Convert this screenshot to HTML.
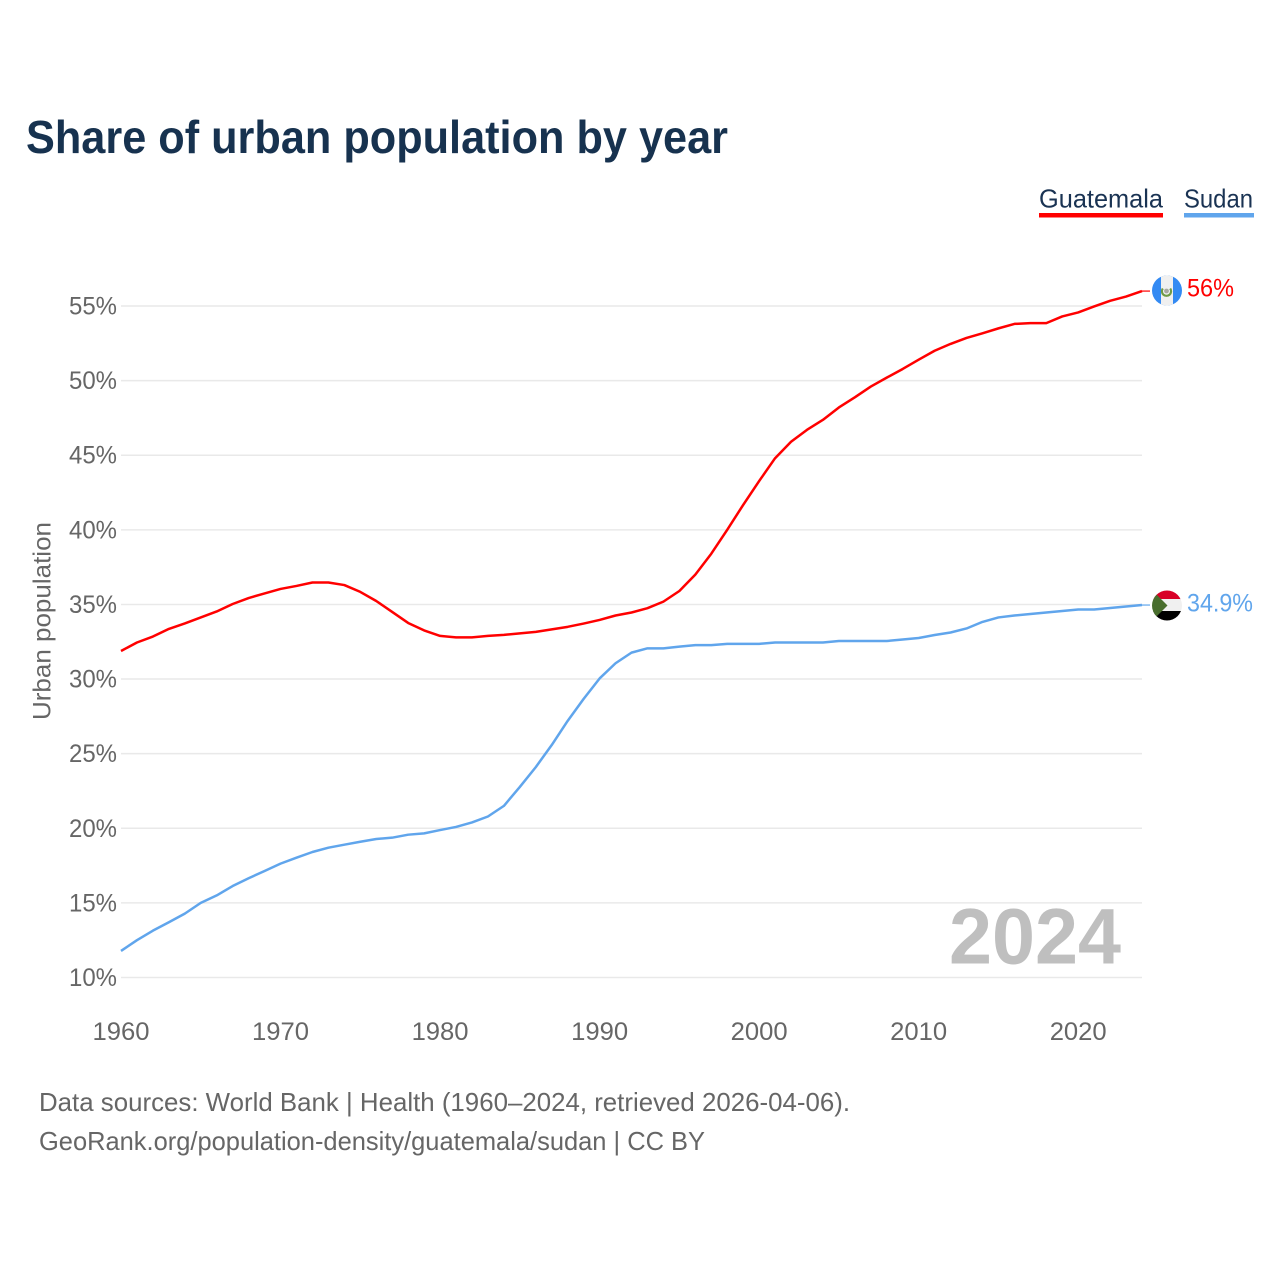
<!DOCTYPE html>
<html>
<head>
<meta charset="utf-8">
<title>Share of urban population by year</title>
<style>
html,body{margin:0;padding:0;background:#fff;}
svg{display:block;font-family:"Liberation Sans",sans-serif;}
</style>
</head>
<body>
<svg id="chart" xmlns="http://www.w3.org/2000/svg" width="1280" height="1280" viewBox="0 0 1280 1280">
  <rect x="0" y="0" width="1280" height="1280" fill="#ffffff"/>
  <text x="26" y="153" font-size="46" font-weight="700" fill="#17324f" textLength="702" lengthAdjust="spacingAndGlyphs">Share of urban population by year</text>

  <g>
    <text x="1039" y="207.500" font-size="26" fill="#1a3353" textLength="124" lengthAdjust="spacingAndGlyphs">Guatemala</text>
    <rect x="1039" y="213" width="124" height="4.5" fill="#ff0000"/>
  </g>
  <g>
    <text x="1184" y="207.500" font-size="26" fill="#1a3353" textLength="69" lengthAdjust="spacingAndGlyphs">Sudan</text>
    <rect x="1184" y="213" width="70" height="4.5" fill="#60a5ec"/>
  </g>

  <g id="grid"></g>
  <g id="yticks"></g>
  <g id="xticks"></g>

  <text transform="translate(50.5,621) rotate(-90)" text-anchor="middle" font-size="25" fill="#666666" textLength="198" lengthAdjust="spacingAndGlyphs">Urban population</text>

  <text x="949" y="963.500" font-size="79" font-weight="700" fill="#bfbfbf" textLength="172" lengthAdjust="spacingAndGlyphs">2024</text>

  <g id="series"></g>

  <defs>
    <clipPath id="flag-clip-gt"><circle cx="1167" cy="290.5" r="15"/></clipPath>
    <clipPath id="flag-clip-sd"><circle cx="1167" cy="605.5" r="15"/></clipPath>
  </defs>
  <g clip-path="url(#flag-clip-gt)">
    <rect x="1152" y="275" width="30" height="31" fill="#338af3"/>
    <rect x="1161" y="275" width="12" height="31" fill="#f0f0f0"/>
    <path d="M1162.8 288.5 A4.600 4.600 0 1 0 1170.200 288.500" fill="none" stroke="#6f9a45" stroke-width="2.2"/>
    <circle cx="1166.500" cy="291" r="2.400" fill="#a8a8a0"/>
  </g>
  <g clip-path="url(#flag-clip-sd)">
    <rect x="1152" y="590" width="30" height="9.5" fill="#d80027"/>
    <rect x="1152" y="599" width="30" height="12.5" fill="#f0f0f0"/>
    <rect x="1152" y="611" width="30" height="10" fill="#000000"/>
    <polygon points="1152,590 1167.500,605.500 1152,621" fill="#496e2d"/>
  </g>

  <text id="label-gt" x="1187" y="296.500" font-size="25" fill="#ff0000" textLength="47" lengthAdjust="spacingAndGlyphs"></text>
  <text id="label-sd" x="1187" y="611.500" font-size="25" fill="#60a5ec" textLength="66" lengthAdjust="spacingAndGlyphs"></text>

  <text x="39" y="1111" font-size="26" fill="#666666" textLength="811" lengthAdjust="spacingAndGlyphs">Data sources: World Bank | Health (1960–2024, retrieved 2026-04-06).</text>
  <text x="39" y="1150" font-size="26" fill="#666666" textLength="666" lengthAdjust="spacingAndGlyphs">GeoRank.org/population-density/guatemala/sudan | CC BY</text>
</svg>

<script>
const years = [1960,1961,1962,1963,1964,1965,1966,1967,1968,1969,1970,1971,1972,1973,1974,1975,1976,1977,1978,1979,1980,1981,1982,1983,1984,1985,1986,1987,1988,1989,1990,1991,1992,1993,1994,1995,1996,1997,1998,1999,2000,2001,2002,2003,2004,2005,2006,2007,2008,2009,2010,2011,2012,2013,2014,2015,2016,2017,2018,2019,2020,2021,2022,2023,2024];
const guatemala = [31.88,32.45,32.85,33.36,33.73,34.13,34.53,35.03,35.43,35.74,36.04,36.24,36.47,36.47,36.3,35.84,35.23,34.5,33.76,33.26,32.89,32.79,32.79,32.89,32.96,33.06,33.16,33.33,33.5,33.72,33.96,34.26,34.46,34.75,35.19,35.9,37.0,38.4,40,41.67,43.27,44.8,45.9,46.7,47.37,48.2,48.88,49.6,50.2,50.78,51.4,52,52.46,52.86,53.17,53.5,53.8,53.85,53.85,54.3,54.57,54.97,55.35,55.63,56];
const sudan = [11.78,12.5,13.14,13.7,14.28,15,15.5,16.13,16.65,17.14,17.63,18.03,18.41,18.7,18.9,19.1,19.28,19.37,19.57,19.66,19.88,20.09,20.39,20.79,21.5,22.77,24.1,25.58,27.2,28.67,30.04,31.06,31.77,32.06,32.06,32.17,32.27,32.27,32.36,32.36,32.36,32.45,32.45,32.45,32.45,32.55,32.55,32.55,32.55,32.65,32.75,32.95,33.12,33.39,33.83,34.13,34.26,34.36,34.46,34.56,34.66,34.66,34.76,34.86,34.96];
const yTickValues = [10,15,20,25,30,35,40,45,50,55];
const xTickValues = [1960,1970,1980,1990,2000,2010,2020];
const endLabelGuatemala = "56%";
const endLabelSudan = "34.9%";

const NS = "http://www.w3.org/2000/svg";
function xScale(year){ return 121 + (year - 1960) * (1142 - 121) / 64; }
function yScale(v){ return 977.5 - (v - 10) * (977.5 - 306) / 45; }
function make(tag, attrs){
  const el = document.createElementNS(NS, tag);
  for (const k in attrs) el.setAttribute(k, attrs[k]);
  return el;
}

const grid = document.getElementById('grid');
const yticks = document.getElementById('yticks');
yTickValues.forEach(function(v){
  const line = make('line', {x1:121, x2:1142, y1:yScale(v), y2:yScale(v), stroke:'#e9e9e9', 'stroke-width':1.5});
  
  
  grid.appendChild(line);
  const t = make('text', {x:117, y:yScale(v)+8.5, 'text-anchor':'end', 'font-size':25, fill:'#666666', textLength:48, lengthAdjust:'spacingAndGlyphs'});
  
  
  t.textContent = v + '%';
  yticks.appendChild(t);
});

const xticks = document.getElementById('xticks');
xTickValues.forEach(function(y){
  const t = make('text', {x:xScale(y), y:1040, 'text-anchor':'middle', 'font-size':25, fill:'#666666', textLength:57, lengthAdjust:'spacingAndGlyphs'});
  
  
  t.textContent = y;
  xticks.appendChild(t);
});

function pathFor(values){
  return values.map(function(v, i){
    return (i ? 'L' : 'M') + xScale(years[i]).toFixed(2) + ' ' + yScale(v).toFixed(2);
  }).join(' ');
}
const series = document.getElementById('series');

const sdLine = make('path', {d:pathFor(sudan), fill:'none', stroke:'#60a5ec', 'stroke-width':2.5, 'stroke-linejoin':'round'});


series.appendChild(sdLine);

const sdEnd = sudan[sudan.length - 1];
const sdConn = make('line', {x1:xScale(2024), x2:xScale(2024)+8, y1:yScale(sdEnd), y2:yScale(sdEnd), stroke:'#60a5ec', 'stroke-width':1.2});


series.appendChild(sdConn);

const gtLine = make('path', {d:pathFor(guatemala), fill:'none', stroke:'#ff0000', 'stroke-width':2.5, 'stroke-linejoin':'round'});


series.appendChild(gtLine);

const gtEnd = guatemala[guatemala.length - 1];
const gtConn = make('line', {x1:xScale(2024), x2:xScale(2024)+8, y1:yScale(gtEnd), y2:yScale(gtEnd), stroke:'#ff0000', 'stroke-width':1.2});


series.appendChild(gtConn);

document.getElementById('label-gt').textContent = endLabelGuatemala;
document.getElementById('label-sd').textContent = endLabelSudan;
</script>
</body>
</html>
